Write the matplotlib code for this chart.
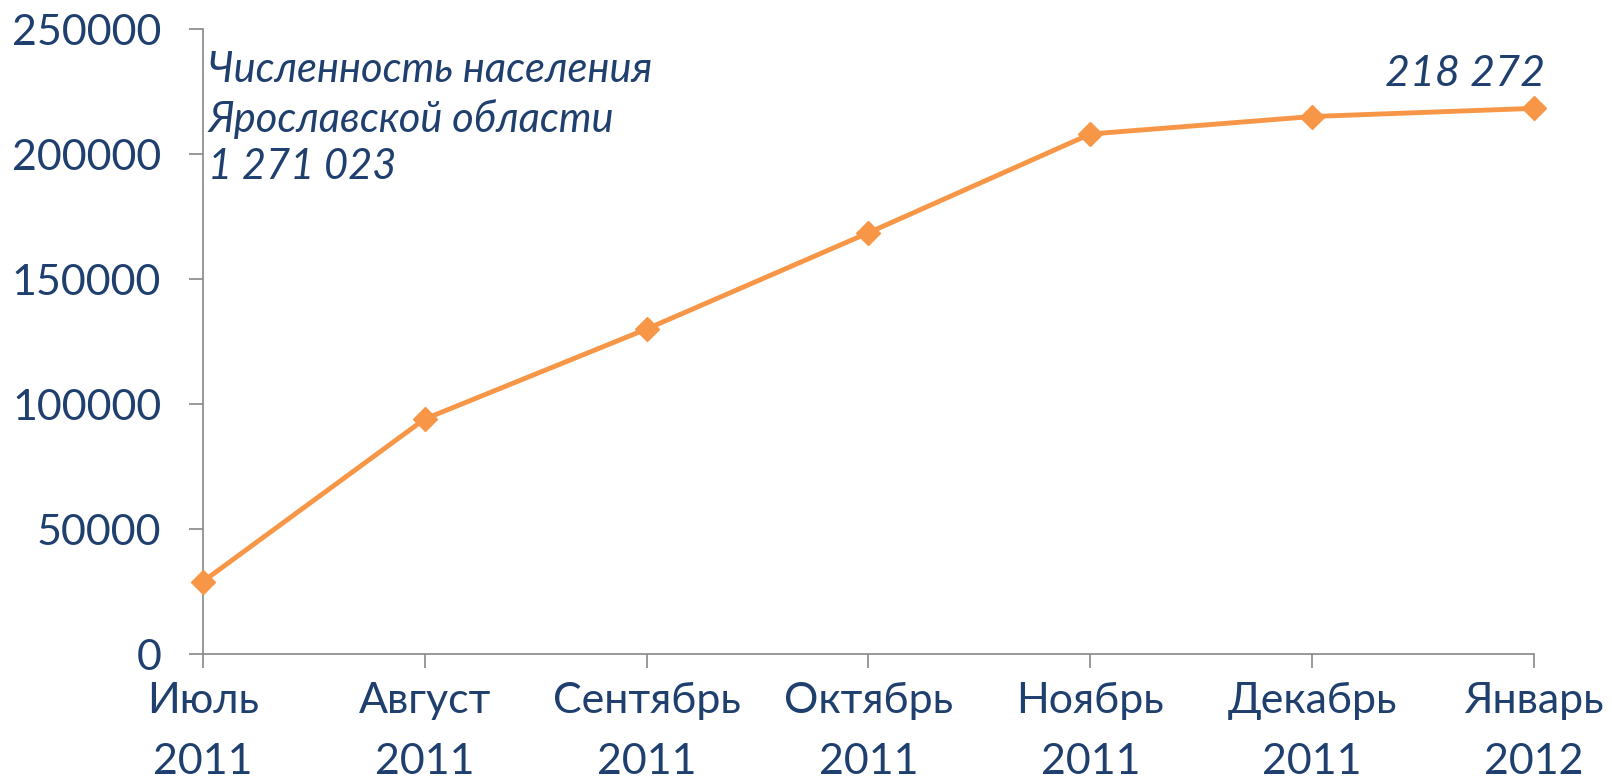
import matplotlib
matplotlib.use('Agg')
import matplotlib.pyplot as plt
import numpy as np

plt.rcParams['font.family'] = ['Lato', 'Open Sans', 'DejaVu Sans']

# data
months = ['Июль\n2011', 'Август\n2011', 'Сентябрь\n2011', 'Октябрь\n2011',
          'Ноябрь\n2011', 'Декабрь\n2011', 'Январь\n2012']
population = [29000, 94000, 130000, 168500, 208000, 215000, 218272]
yticks = [0, 50000, 100000, 150000, 200000, 250000]

text_color = '#1F3F6E'
line_color = '#F79646'
axis_color = '#888888'

fig = plt.figure(figsize=(16.12, 7.76), dpi=100)
ax = fig.add_axes([0.1259, 0.1572, 0.8257, 0.8054])

x = np.arange(len(months))
ax.plot(x, population, color=line_color, lw=3.5, marker='D', ms=12,
        mfc=line_color, mec=line_color, solid_capstyle='round',
        clip_on=False, zorder=5)

ax.set_xlim(0, len(months) - 1)
ax.set_ylim(0, 250000)
ax.set_yticks(yticks)
ax.set_yticklabels([str(v) for v in yticks])
ax.set_xticks(x)
ax.set_xticklabels(months, linespacing=1.75)

for s in ['top', 'right']:
    ax.spines[s].set_visible(False)
for s in ['left', 'bottom']:
    ax.spines[s].set_color(axis_color)
    ax.spines[s].set_linewidth(1.2)

ax.tick_params(axis='both', direction='out', length=10, width=1.2,
               color=axis_color, labelcolor=text_color, labelsize=31)
ax.tick_params(axis='y', pad=20)
ax.tick_params(axis='x', pad=10)

# annotations
ax.text(0.004, 0.965, 'Численность населения\nЯрославской области\n1 271 023',
        transform=ax.transAxes, ha='left', va='top', fontsize=30,
        style='italic', color=text_color, linespacing=1.3)
ax.text(len(months) - 1 + 0.05, 224500, '218 272', ha='right', va='bottom',
        fontsize=31, style='italic', color=text_color)

plt.savefig('out.png', dpi=100)
plt.close()
